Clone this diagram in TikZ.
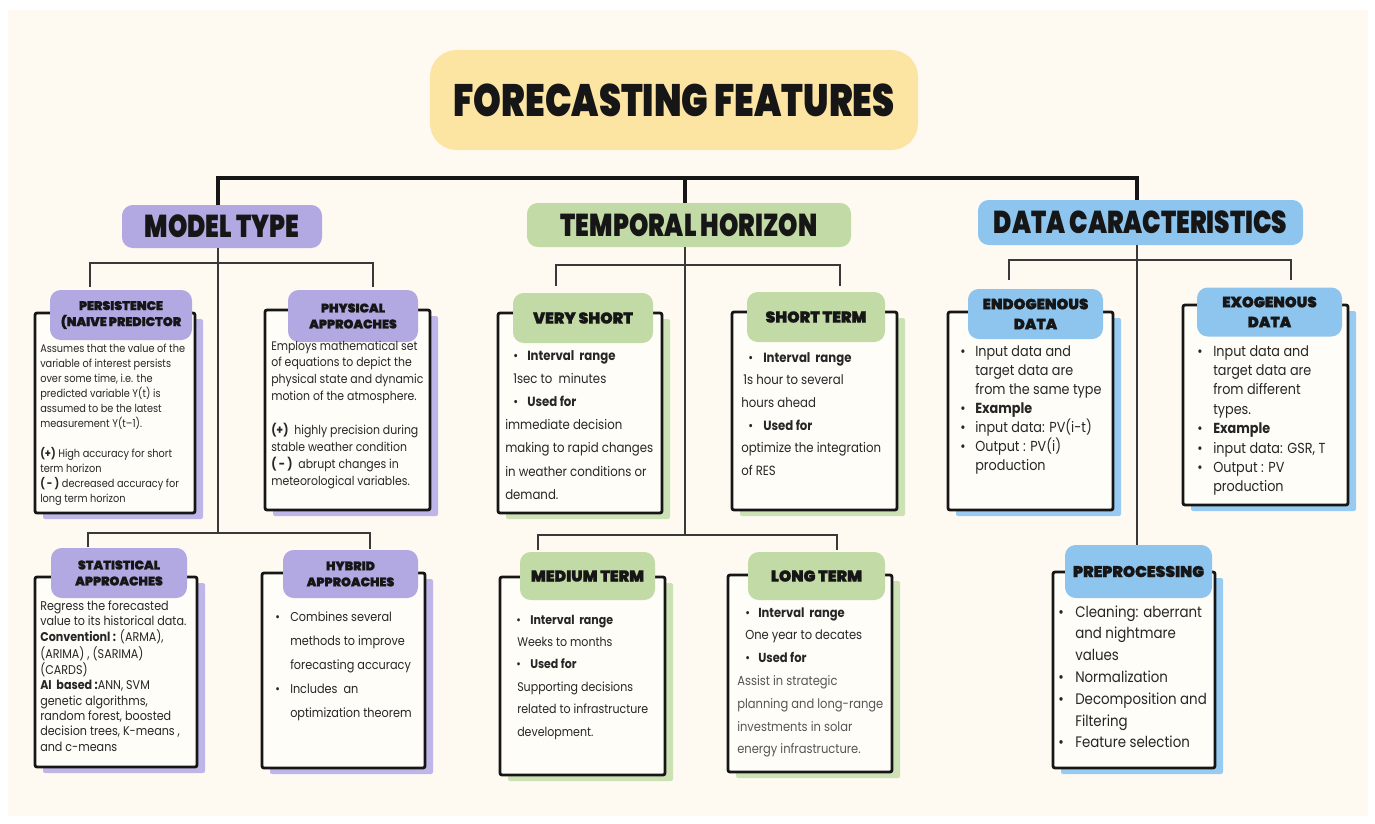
\documentclass[tikz,border=0pt]{standalone}
\usepackage{fontspec}
\setmainfont{Poppins}[FakeStretch=0.88]
\newfontfamily\hf{Poppins Black}[FakeStretch=0.78]
\newfontfamily\lf{Poppins Black}[FakeBold=1]
\usetikzlibrary{shadows}

\definecolor{paper}{HTML}{FEFAF2}
\definecolor{cardc}{HTML}{FFFDF8}
\definecolor{ink}{HTML}{161616}
\definecolor{txt}{HTML}{262626}
\definecolor{soft}{HTML}{555555}
\definecolor{yel}{HTML}{FCE4A2}
\definecolor{purp}{HTML}{B3A9E2}
\definecolor{purpS}{HTML}{BEB5E8}
\definecolor{grn}{HTML}{C2DAA6}
\definecolor{grnS}{HTML}{CCE1B4}
\definecolor{blu}{HTML}{8DC5EF}
\definecolor{bluS}{HTML}{97CBF1}

\newcommand\bul[1]{\makebox[#1][l]{•}}

\tikzset{
  wh/.style 2 args={minimum width=#1*0.75pt, minimum height=#2*0.75pt},
  blob/.style={fill=#1, rounded corners=8pt, inner sep=0pt, align=center, text=ink},
  cardbox/.style={draw=ink, line width=2.1pt, fill=cardc, rounded corners=1.5pt,
    inner sep=0pt, drop shadow={shadow xshift=6pt, shadow yshift=-4.5pt, fill=#1, opacity=1}},
  body/.style={anchor=base west, inner sep=0pt, text=txt},
  trunk/.style={draw=ink, line width=2.3pt},
  twig/.style={draw=ink!85, line width=1.1pt},
}

\begin{document}
\begin{tikzpicture}[x=0.75pt, y=-0.75pt]
\useasboundingbox (0,0) rectangle (1375,824);
\fill[white] (0,0) rectangle (1375,824);
\fill[paper] (8,10) rectangle (1368,816);

% ---------- title and the three main branches ----------
\node[blob=yel, rounded corners=20pt, wh={488}{100}, font={\hf\fontsize{34}{34}\selectfont}] (title) at (674,100) {FORECASTING FEATURES};

\coordinate (busL) at (218,178);
\coordinate (busM) at (685,178);
\coordinate (busR) at (1137,178);

\node[blob=purp, wh={200}{43}, font={\hf\fontsize{23.7}{24}\selectfont}] (mt) at (222,226.5) {MODEL TYPE};
\node[blob=grn, wh={324}{44}, font={\hf\fontsize{23.7}{24}\selectfont}] (th) at (689,225) {TEMPORAL HORIZON};
\node[blob=blu, wh={325}{45}, font={\hf\fontsize{23.7}{24}\selectfont}] (dc) at (1140.5,222.5) {DATA CARACTERISTICS};

\draw[trunk] (busL |- mt.north) -- (busL) -- (busR) -- (busR |- dc.north);
\draw[trunk] (busM) -- (busM |- th.north);

% ---------- tree lines under each branch ----------
\coordinate (mA) at (90,263);   \coordinate (mAe) at (90,287);
\coordinate (mB) at (373,263);  \coordinate (mBe) at (373,287);
\coordinate (mC) at (88,533);   \coordinate (mCe) at (88,547);
\coordinate (mD) at (370,533);  \coordinate (mDe) at (370,549);
\draw[twig] (busL |- mt.south) -- (busL |- mC);
\draw[twig] (mAe) -- (mA) -- (mB) -- (mBe);
\draw[twig] (mCe) -- (mC) -- (mD) -- (mDe);

\coordinate (tA) at (556,265);  \coordinate (tAe) at (556,286);
\coordinate (tB) at (840,265);  \coordinate (tBe) at (840,286);
\coordinate (tC) at (538,535);  \coordinate (tCe) at (538,550);
\coordinate (tD) at (837,535);  \coordinate (tDe) at (837,550);
\draw[twig] (busM |- th.south) -- (busM |- tC);
\draw[twig] (tAe) -- (tA) -- (tB) -- (tBe);
\draw[twig] (tCe) -- (tC) -- (tD) -- (tDe);

\coordinate (dA) at (1009,260); \coordinate (dAe) at (1009,280);
\coordinate (dB) at (1291,260); \coordinate (dBe) at (1291,280);
\draw[twig] (dAe) -- (dA) -- (dB) -- (dBe);

% ---------- MODEL TYPE cards ----------
\node[cardbox=purpS, wh={160}{200}] (persbox) at (115,413) {};
\node[blob=purp, wh={142}{50}, font={\lf\fontsize{9.4}{12}\selectfont}] (perslab) at (121,315) {PERSISTENCE\\(NAIVE PREDICTOR};
\node[body, font={\fontsize{8.3}{11.25}\selectfont}] (perstext) at (40,352) {\begin{tabular}[t]{@{}l@{}}
Assumes that the value of the\\
variable of interest persists\\
over some time, i.e. the\\
predicted variable Y(t) is\\
assumed to be the latest\\
measurement Y(t–1).\\
\\
\textbf{(+)} High accuracy for short\\
term horizon\\
\textbf{( - )} decreased accuracy for\\
long term horizon
\end{tabular}};

\node[cardbox=purpS, wh={165}{200}] (physbox) at (347.5,410) {};
\node[blob=purp, wh={130}{52}, font={\lf\fontsize{9.4}{12}\selectfont}] (physlab) at (353,316) {PHYSICAL\\APPROACHES};
\node[body, font={\fontsize{9.3}{12.7}\selectfont}] (phystext) at (271,350) {\begin{tabular}[t]{@{}l@{}}
Employs mathematical set\\
of equations to depict the\\
physical state and dynamic\\
motion of the atmosphere.\\
\\
\textbf{(+)}\ \ highly precision during\\
stable weather condition\\
\textbf{( - )}\ \ abrupt changes in\\
meteorological variables.
\end{tabular}};

\node[cardbox=purpS, wh={162}{190}] (statbox) at (116,672) {};
\node[blob=purp, wh={136}{50}, font={\lf\fontsize{9.4}{12}\selectfont}] (statlab) at (119,573) {STATISTICAL\\APPROACHES};
\node[body, font={\fontsize{9.5}{11.5}\selectfont}] (stattext) at (40,610) {\begin{tabular}[t]{@{}l@{}}
Regress the forecasted\\
value to its historical data.\\
\textbf{Conventionl :} (ARMA),\\
(ARIMA) , (SARIMA)\\
(CARDS)\\
\textbf{AI\ \ based :}ANN, SVM\\
genetic algorithms,\\
random forest, boosted\\
decision trees, K-means ,\\
and c-means
\end{tabular}};

\node[cardbox=purpS, wh={163}{195}] (hybbox) at (343.5,670.5) {};
\node[blob=purp, wh={135}{48}, font={\lf\fontsize{9.4}{12}\selectfont}] (hyblab) at (350.5,574) {HYBRID\\APPROACHES};
\node[body, font={\fontsize{9.6}{18}\selectfont}] (hybtext) at (275,621) {\begin{tabular}[t]{@{}l@{}}
\bul{11.25pt}Combines several\\
\hspace*{11.25pt}methods to improve\\
\hspace*{11.25pt}forecasting accuracy\\
\bul{11.25pt}Includes\ \ an\\
\hspace*{11.25pt}optimization theorem
\end{tabular}};

% ---------- TEMPORAL HORIZON cards ----------
\node[cardbox=grnS, wh={164}{200}] (vsbox) at (580,413) {};
\node[blob=grn, wh={140}{50}, font={\lf\fontsize{11.8}{14}\selectfont}] (vslab) at (583,318) {VERY SHORT};
\node[body, font={\fontsize{10}{17.4}\selectfont}] (vstext) at (505,360) {\begin{tabular}[t]{@{}l@{}}
\hspace*{6pt}\bul{10.5pt}\textbf{Interval\ \ range}\\
\hspace*{6pt}1sec to\ \ minutes\\
\hspace*{6pt}\bul{10.5pt}\textbf{Used for}\\
immediate decision\\
making to rapid changes\\
in weather conditions or\\
demand.
\end{tabular}};

\node[cardbox=grnS, wh={165}{198}] (stbox) at (814.5,411) {};
\node[blob=grn, wh={138}{50}, font={\lf\fontsize{11.8}{14}\selectfont}] (stlab) at (816,317) {SHORT TERM};
\node[body, font={\fontsize{10}{17}\selectfont}] (sttext) at (741,362) {\begin{tabular}[t]{@{}l@{}}
\hspace*{5.25pt}\bul{11.25pt}\textbf{Interval\ \ range}\\
\hspace*{1.5pt}1s hour to several\\
hours ahead\\
\hspace*{5.25pt}\bul{11.25pt}\textbf{Used for}\\
optimize the integration\\
of RES
\end{tabular}};

\node[cardbox=grnS, wh={165}{198}] (medbox) at (582.5,676) {};
\node[blob=grn, wh={135}{48}, font={\lf\fontsize{11.8}{14}\selectfont}] (medlab) at (587.5,576) {MEDIUM TERM};
\node[body, font={\fontsize{9.4}{16.8}\selectfont}] (medtext) at (516,624) {\begin{tabular}[t]{@{}l@{}}
\bul{10.5pt}\textbf{Interval\ \ range}\\
\hspace*{0.75pt}Weeks to months\\
\bul{10.5pt}\textbf{Used for}\\
\hspace*{0.75pt}Supporting decisions\\
\hspace*{0.75pt}related to infrastructure\\
\hspace*{0.75pt}development.
\end{tabular}};

\node[cardbox=grnS, wh={164}{197}] (longbox) at (810,673.5) {};
\node[blob=grn, wh={137}{48}, font={\lf\fontsize{11.8}{14}\selectfont}] (longlab) at (816.5,576) {LONG TERM};
\node[body, font={\fontsize{9.8}{17.1}\selectfont}] (longtext) at (737,617) {\begin{tabular}[t]{@{}l@{}}
\hspace*{6pt}\bul{9.75pt}\textbf{Interval\ \ range}\\
\hspace*{6pt}One year to decates\\
\hspace*{6pt}\bul{9.75pt}\textbf{Used for}\\
\textcolor{soft}{Assist in strategic}\\
\textcolor{soft}{planning and long-range}\\
\textcolor{soft}{investments in solar}\\
\textcolor{soft}{energy infrastructure.}
\end{tabular}};

% ---------- DATA CARACTERISTICS cards ----------
\node[cardbox=bluS, wh={165}{198}] (endobox) at (1030.5,411) {};
\node[blob=blu, wh={135}{50}, font={\lf\fontsize{11.2}{15}\selectfont}] (endolab) at (1035.5,314) {ENDOGENOUS\\DATA};
\node[body, font={\fontsize{10.9}{14.25}\selectfont}] (endotext) at (960,356) {\begin{tabular}[t]{@{}l@{}}
\bul{11.25pt}Input data and\\
\hspace*{11.25pt}target data are\\
\hspace*{11.25pt}from the same type\\
\bul{11.25pt}\textbf{Example}\\
\bul{11.25pt}input data: PV(i-t)\\
\bul{11.25pt}Output : PV(i)\\
\hspace*{11.25pt}production
\end{tabular}};

\node[cardbox=bluS, wh={165}{200}] (exobox) at (1265.5,405) {};
\node[blob=blu, wh={145}{49}, font={\lf\fontsize{11.2}{15}\selectfont}] (exolab) at (1269.5,312) {EXOGENOUS\\DATA};
\node[body, font={\fontsize{10.9}{14.55}\selectfont}] (exotext) at (1197,356) {\begin{tabular}[t]{@{}l@{}}
\bul{12pt}Input data and\\
\hspace*{12pt}target data are\\
\hspace*{12pt}from different\\
\hspace*{12pt}types.\\
\bul{12pt}\textbf{Example}\\
\bul{12pt}input data: GSR, T\\
\bul{12pt}Output : PV\\
\hspace*{12pt}production
\end{tabular}};

\node[cardbox=bluS, wh={162}{196}] (prebox) at (1134,670) {};
\node[blob=blu, wh={147}{53}, font={\lf\fontsize{11.7}{14}\selectfont}] (prelab) at (1138.5,571.5) {PREPROCESSING};
\node[body, font={\fontsize{11.4}{16.35}\selectfont}] (pretext) at (1058,617) {\begin{tabular}[t]{@{}l@{}}
\bul{12.75pt}Cleaning: aberrant\\
\hspace*{12.75pt}and nightmare\\
\hspace*{12.75pt}values\\
\bul{12.75pt}Normalization\\
\bul{12.75pt}Decomposition and\\
\hspace*{12.75pt}Filtering\\
\bul{12.75pt}Feature selection
\end{tabular}};

\draw[twig] (busR |- dc.south) -- (busR |- prelab.north);
\end{tikzpicture}
\end{document}
